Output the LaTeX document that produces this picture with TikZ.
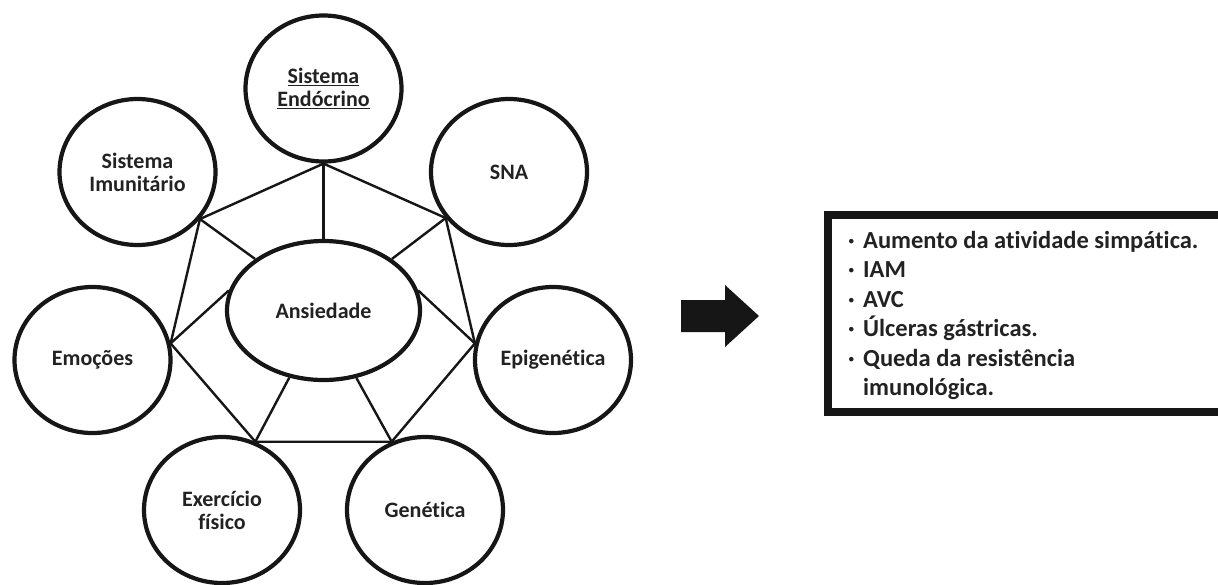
\documentclass[tikz,border=0pt]{standalone}
\usepackage{fontspec}
\setmainfont{Carlito}[RawFeature={-liga}]
\usetikzlibrary{shapes.geometric}
\definecolor{ink}{HTML}{161616}
\definecolor{txt}{HTML}{222222}
\newcommand\myul[1]{\setbox0\hbox{#1}\rlap{\rule[-3.2pt]{\wd0}{1.5pt}}\box0}
\begin{document}
\begin{tikzpicture}[x=1pt,y=-1pt,
  sat/.style={ellipse,draw=ink,line width=4.2pt,minimum width=156pt,minimum height=146pt,
    inner sep=0pt,align=center,font=\fontsize{22}{23}\selectfont\bfseries,text=txt},
  link/.style={draw=ink,line width=2.4pt,line join=round}]
\useasboundingbox (0,0) rectangle (1218,584);
% nodes
\node[sat] (endo) at (323.5,88.5) {\myul{Sistema}\\\myul{Endócrino}};
\node[sat] (imun) at (137.5,172) {Sistema\\Imunitário};
\node[sat] (sna)  at (509,172) {SNA};
\node[sat] (emo)  at (92.5,360) {Emoções};
\node[sat] (epi)  at (553,360) {Epigenética};
\node[sat] (exer) at (222,510) {Exercício\\físico};
\node[sat] (gen)  at (425,510) {Genética};
\node[sat,minimum width=193pt,minimum height=139pt] (ans) at (323.5,310.5) {Ansiedade};
% outer ring
\draw[link] (endo.south) -- (imun.-37.5) -- (emo.12) -- (exer.64) -- (gen.116)
  -- (epi.168) -- (sna.-144) -- cycle;
% spokes
\draw[link] (endo.south) -- (ans.north);
\draw[link] (imun.-37.5) -- (ans.143);
\draw[link] (sna.-144) -- (ans.37.5);
\draw[link] (emo.12) -- (ans.168);
\draw[link] (epi.168) -- (ans.12);
\draw[link] (exer.64) -- (ans.-117);
\draw[link] (gen.116) -- (ans.-64);
% big arrow
\fill[ink] (681,300) -- (725,300) -- (725,285) -- (759,316) -- (725,347) -- (725,332) -- (681,332) -- cycle;
% result box
\node[draw=ink,line width=8pt,inner sep=0pt,outer sep=0pt,anchor=north west,
  minimum width=398pt,minimum height=197.5pt] (box) at (827.5,214.5) {};
\node[anchor=base west,inner sep=0pt,text=txt,font=\fontsize{24.5}{29.5}\selectfont\bfseries] (list) at (848,248)
{\begin{tabular}[t]{@{}p{15pt}@{}l@{}}
· & Aumento da atividade simpática.\\
· & IAM\\
· & AVC\\
· & Úlceras gástricas.\\
· & Queda da resistência\\
  & imunológica.
\end{tabular}};
\end{tikzpicture}
\end{document}
